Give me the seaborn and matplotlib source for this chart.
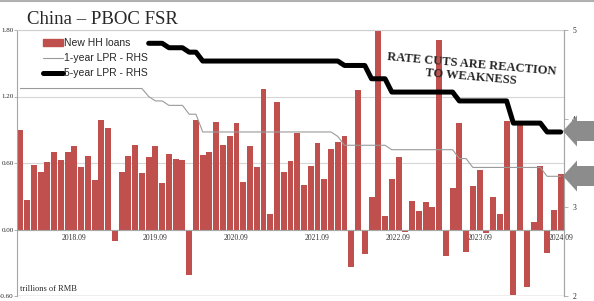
import numpy as np
import pandas as pd
import matplotlib
matplotlib.use("Agg")
import matplotlib.pyplot as plt
import seaborn as sns
from matplotlib.patches import FancyArrow, Patch
from matplotlib.lines import Line2D

# === Data ===
months = pd.period_range("2018-01", "2024-09", freq="M").strftime("%Y.%m").tolist()

# new household loans, trillions of RMB (LHS)
hh_loans = [
    0.90, 0.27, 0.58, 0.52, 0.61, 0.70, 0.63, 0.70, 0.75, 0.56, 0.66, 0.45,   # 2018
    0.99, 0.92, -0.10, 0.52, 0.66, 0.76, 0.51, 0.65, 0.75, 0.42, 0.68, 0.64,  # 2019
    0.63, -0.41, 0.99, 0.67, 0.70, 0.97, 0.76, 0.84, 0.96, 0.43, 0.75, 0.56,  # 2020
    1.27, 0.14, 1.15, 0.52, 0.62, 0.87, 0.40, 0.57, 0.78, 0.46, 0.73, 0.79,   # 2021
    0.84, -0.34, 1.26, -0.22, 0.29, 1.80, 0.12, 0.46, 0.65, -0.02, 0.26, 0.17,  # 2022
    0.25, 0.20, 1.71, -0.24, 0.37, 0.96, -0.20, 0.39, 0.54, -0.03, 0.29, 0.14,  # 2023
    0.98, -0.59, 0.94, -0.52, 0.07, 0.57, -0.21, 0.18, 0.50,                    # 2024
]

# 1-year LPR (RHS)
lpr_1y = [
    4.34, 4.34, 4.34, 4.34, 4.34, 4.34, 4.34, 4.34, 4.34, 4.34, 4.34, 4.34,
    4.34, 4.34, 4.34, 4.34, 4.34, 4.34, 4.34, 4.25, 4.20, 4.20, 4.15, 4.15,
    4.15, 4.05, 4.05, 3.85, 3.85, 3.85, 3.85, 3.85, 3.85, 3.85, 3.85, 3.85,
    3.85, 3.85, 3.85, 3.85, 3.85, 3.85, 3.85, 3.85, 3.85, 3.85, 3.85, 3.80,
    3.70, 3.70, 3.70, 3.70, 3.70, 3.70, 3.70, 3.65, 3.65, 3.65, 3.65, 3.65,
    3.65, 3.65, 3.65, 3.65, 3.65, 3.55, 3.55, 3.45, 3.45, 3.45, 3.45, 3.45,
    3.45, 3.45, 3.45, 3.45, 3.45, 3.45, 3.35, 3.35, 3.35,
]

# 5-year LPR (RHS), starts Aug 2019
nan = np.nan
lpr_5y = [
    nan, nan, nan, nan, nan, nan, nan, nan, nan, nan, nan, nan,
    nan, nan, nan, nan, nan, nan, nan, 4.85, 4.85, 4.85, 4.80, 4.80,
    4.80, 4.75, 4.75, 4.65, 4.65, 4.65, 4.65, 4.65, 4.65, 4.65, 4.65, 4.65,
    4.65, 4.65, 4.65, 4.65, 4.65, 4.65, 4.65, 4.65, 4.65, 4.65, 4.65, 4.65,
    4.60, 4.60, 4.60, 4.60, 4.45, 4.45, 4.45, 4.30, 4.30, 4.30, 4.30, 4.30,
    4.30, 4.30, 4.30, 4.30, 4.30, 4.20, 4.20, 4.20, 4.20, 4.20, 4.20, 4.20,
    4.20, 3.95, 3.95, 3.95, 3.95, 3.95, 3.85, 3.85, 3.85,
]

xlabels = ["2018.09", "2019.09", "2020.09", "2021.09", "2022.09", "2023.09", "2024.09"]
left_ticks = [-0.6, 0.0, 0.6, 1.2, 1.8]
right_ticks = [2, 3, 4, 5]

df = pd.DataFrame({"month": months, "loans": hh_loans})

RED = "#C0504D"
GREY_LINE = "#9a9a9a"
AXIS = "#a6a6a6"
SANS = "Liberation Sans"

sns.set_style("white")
# serif is the default here (ticks, title, notes); legend uses sans
plt.rcParams["font.family"] = ["Liberation Serif", "DejaVu Serif"]

W, H = 594, 301
fig = plt.figure(figsize=(W / 100, H / 100), dpi=100)
ax = fig.add_axes([17 / W, 1 - 296 / H, (564 - 17) / W, (296 - 30) / H])

# === Bars (LHS) ===
sns.barplot(data=df, x="month", y="loans", color=RED, saturation=1,
            width=0.88, linewidth=0, errorbar=None, ax=ax)
ax.set_xlim(-0.5, len(months) - 0.5)
ax.set_ylim(-0.6, 1.8)
ax.set_xlabel("")
ax.set_ylabel("")

ax.set_yticks(left_ticks, [f"{v:.2f}" for v in left_ticks])
ax.tick_params(axis="y", length=2, width=0.6, color=AXIS, pad=0.5, labelsize=5)
ax.yaxis.grid(True, color="#d6d6d6", lw=0.8)
ax.set_axisbelow(True)

lab_pos = [months.index(m) for m in xlabels]
ax.set_xticks(np.arange(-0.5, len(months), 1), minor=True)
ax.set_xticks(lab_pos, xlabels)
ax.tick_params(axis="x", which="major", length=0, pad=3, labelsize=5.5, labelcolor="#333333")
ax.tick_params(axis="x", which="minor", length=3, width=0.6, color=AXIS, direction="out")
ax.spines["bottom"].set_position(("data", 0))
for s in ["bottom", "left", "right"]:
    ax.spines[s].set_color(AXIS)
    ax.spines[s].set_linewidth(0.8)
ax.spines["top"].set_color("#cfcfcf")
ax.axhline(-0.6, color="#b5b5b5", lw=1.0, zorder=0.5)

ax.text(0.006, 0.012, "trillions of RMB", transform=ax.transAxes,
        fontsize=6, va="bottom", ha="left")

# === LPR lines (RHS) ===
ax2 = ax.twinx()
x = np.arange(len(months))
ax2.plot(x, lpr_1y, color=GREY_LINE, lw=0.8)
ax2.plot(x, lpr_5y, color="black", lw=3.6, solid_joinstyle="round")
ax2.set_ylim(2, 5)
ax2.set_yticks(right_ticks, [str(v) for v in right_ticks])
ax2.tick_params(axis="y", length=3, width=0.6, color=AXIS, pad=3, labelsize=5.5)
for s in ["top", "bottom", "left"]:
    ax2.spines[s].set_visible(False)
ax2.spines["right"].set_color(AXIS)
ax2.spines["right"].set_linewidth(0.8)

handles = [Patch(color=RED),
           Line2D([], [], color=GREY_LINE, lw=0.8),
           Line2D([], [], color="black", lw=3.6)]
labels = ["New HH loans", "1-year LPR - RHS", "5-year LPR - RHS"]
ax2.legend(handles, labels, loc="upper left", bbox_to_anchor=(43 / W, 1 - 38 / H),
           bbox_transform=fig.transFigure, frameon=False, borderpad=0, borderaxespad=0,
           handlelength=1.9, handletextpad=0.15, labelspacing=0.5,
           prop={"family": SANS, "size": 7.5})

# === Title, annotation, arrows ===
fig.text(27 / W, 1 - 20 / H, "China \u2013 PBOC FSR", fontsize=13.5,
         ha="left", va="center")
fig.text(471 / W, 1 - 71 / H, "RATE CUTS ARE REACTION\nTO WEAKNESS",
         fontweight="bold", fontsize=9, ha="center", va="center", rotation=-5,
         rotation_mode="anchor", multialignment="center", linespacing=1.05)

for yc in [131, 176]:
    fig.add_artist(FancyArrow(1.0, 1 - yc / H, -(W - 563) / W, 0,
                              width=20 / H, head_width=31 / H, head_length=14 / W,
                              length_includes_head=True, color="#8c8c8c", lw=0,
                              transform=fig.transFigure))

fig.add_artist(Line2D([0, 1], [1 - 1.2 / H, 1 - 1.2 / H], color="#b0b0b0", lw=1.5,
                      transform=fig.transFigure))

fig.savefig("out.png", dpi=100)
